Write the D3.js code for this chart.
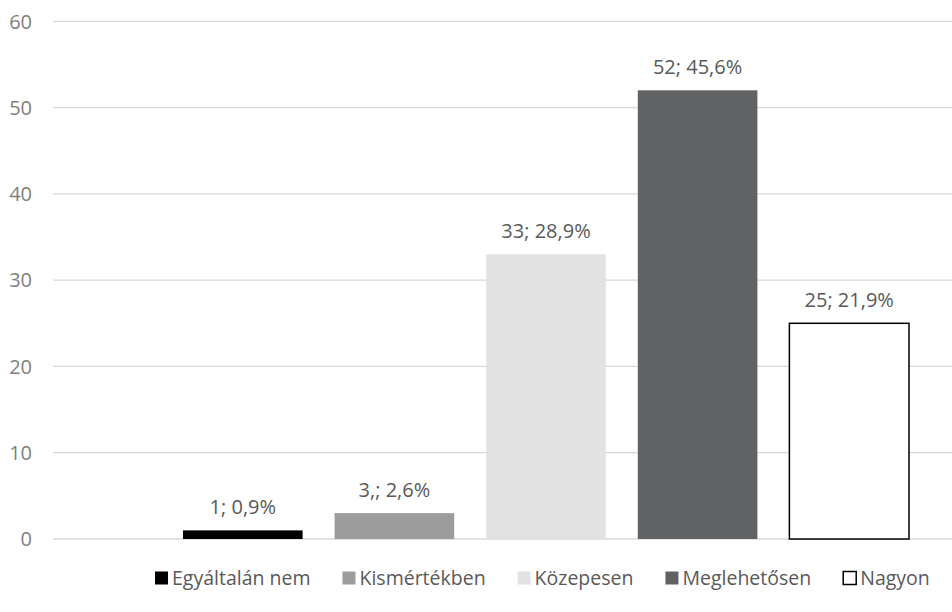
<!DOCTYPE html>
<html>
<head>
<meta charset="utf-8">
<script src="https://cdn.jsdelivr.net/npm/d3@7"></script>
<style>
  html, body { margin: 0; padding: 0; background: #fff; }
  svg { display: block; }
  text { font-family: "Open Sans", "Noto Sans", sans-serif; }
</style>
</head>
<body>
<svg id="chart" width="952" height="612"></svg>
<script>
// Answer categories, counts and the printed value labels
const categories = ["Egyáltalán nem", "Kismértékben", "Közepesen", "Meglehetősen", "Nagyon"];
const counts = [1, 3, 33, 52, 25];
const valueLabels = ["1; 0,9%", "3,; 2,6%", "33; 28,9%", "52; 45,6%", "25; 21,9%"];
const yTicks = [0, 10, 20, 30, 40, 50, 60];

const fills = ["#000000", "#9c9c9c", "#e2e2e2", "#616264", "#ffffff"];
const strokes = ["none", "none", "none", "none", "#000000"];

const svg = d3.select("#chart");
const plot = { left: 53, right: 952, top: 21.3, bottom: 539 };

const y = d3.scaleLinear().domain([0, 60]).range([plot.bottom, plot.top]);
const x = d3.scaleBand()
  .domain(categories)
  .range([167, 925])
  .paddingInner(0.211)
  .paddingOuter(0.1055);

// horizontal gridlines
svg.append("g")
  .selectAll("line")
  .data(yTicks)
  .join("line")
  .attr("x1", plot.left).attr("x2", plot.right)
  .attr("y1", d => y(d)).attr("y2", d => y(d))
  .attr("stroke", "#d9d9d9").attr("stroke-width", 1.3);

// y axis labels
const yAxis = d3.axisLeft(y).tickValues(yTicks).tickSize(0).tickPadding(0);
const gy = svg.append("g").attr("transform", `translate(32,0)`).call(yAxis);
gy.select(".domain").remove();
gy.selectAll("text")
  .attr("fill", "#7f7f7f")
  .style("font-size", "20px")
  .style("font-family", "'Open Sans', sans-serif")
  .attr("dy", "0.34em");

// bars
svg.append("g")
  .selectAll("rect")
  .data(categories)
  .join("rect")
  .attr("x", d => x(d))
  .attr("width", x.bandwidth())
  .attr("y", (d, i) => y(counts[i]))
  .attr("height", (d, i) => y(0) - y(counts[i]))
  .attr("fill", (d, i) => fills[i])
  .attr("stroke", (d, i) => strokes[i])
  .attr("stroke-width", 1.5);

// value labels above the bars
svg.append("g")
  .selectAll("text")
  .data(categories)
  .join("text")
  .attr("x", d => x(d) + x.bandwidth() / 2)
  .attr("y", (d, i) => y(counts[i]) - 16)
  .attr("text-anchor", "middle")
  .attr("fill", "#595959")
  .style("font-size", "20px")
  .text((d, i) => valueLabels[i]);

// legend
const legend = svg.append("g").attr("transform", "translate(0,578)");
const items = legend.selectAll("g").data(categories).join("g");
items.append("rect")
  .attr("width", 13).attr("height", 13)
  .attr("y", -6.5)
  .attr("fill", (d, i) => fills[i])
  .attr("stroke", (d, i) => i === 4 ? "#000" : "none")
  .attr("stroke-width", 1.5);
items.append("text")
  .attr("x", 17)
  .attr("dy", "0.35em")
  .attr("fill", "#595959")
  .style("font-size", "19.5px")
  .text(d => d);
let cx = 155;
items.each(function () {
  const g = d3.select(this);
  g.attr("transform", `translate(${cx},0)`);
  const w = 17 + g.select("text").node().getComputedTextLength();
  cx += w + 32;
});
</script>
</body>
</html>
